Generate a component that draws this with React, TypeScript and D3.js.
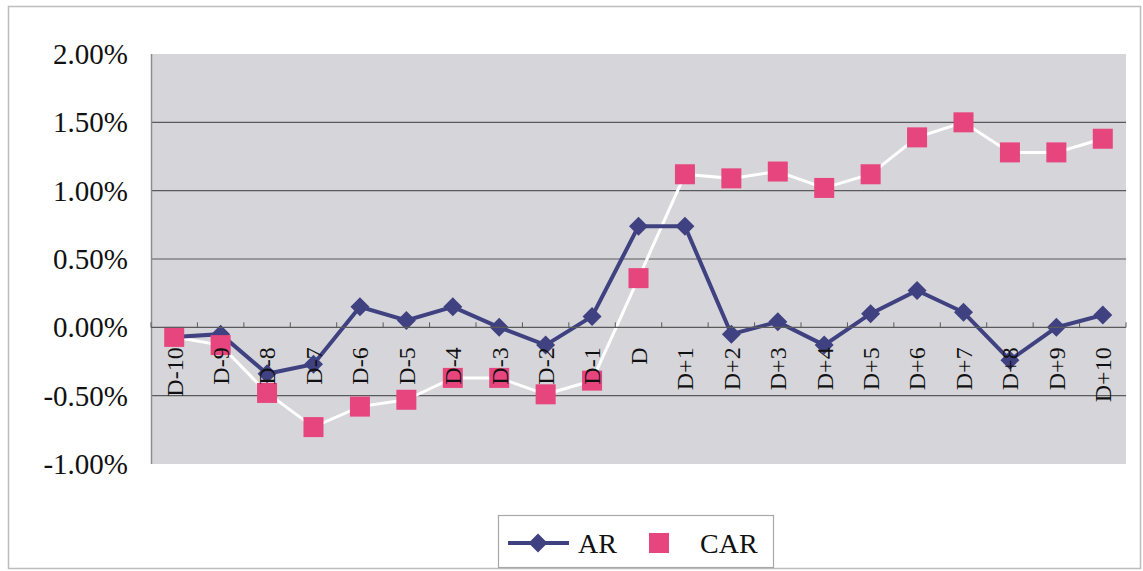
import React, { useRef, useEffect } from 'react';
import * as d3 from 'd3';

const categories = [
  'D-10', 'D-9', 'D-8', 'D-7', 'D-6', 'D-5', 'D-4', 'D-3', 'D-2', 'D-1', 'D',
  'D+1', 'D+2', 'D+3', 'D+4', 'D+5', 'D+6', 'D+7', 'D+8', 'D+9', 'D+10',
];

// values in percent
const arValues = [
  -0.07, -0.05, -0.34, -0.27, 0.15, 0.05, 0.15, 0.0, -0.13, 0.08, 0.74,
  0.74, -0.05, 0.04, -0.13, 0.1, 0.27, 0.11, -0.24, 0.0, 0.09,
];
const carValues = [
  -0.07, -0.13, -0.48, -0.73, -0.58, -0.53, -0.37, -0.37, -0.49, -0.39, 0.36,
  1.12, 1.09, 1.14, 1.02, 1.12, 1.39, 1.5, 1.28, 1.28, 1.38,
];
const yTicks = [2.0, 1.5, 1.0, 0.5, 0.0, -0.5, -1.0];

const W = 1143;
const H = 571;
const FONT = '"Liberation Serif", "Times New Roman", serif';
const AR_COLOR = '#3f4181';
const CAR_COLOR = '#e6457d';

const App = () => {
  const ref = useRef<SVGSVGElement>(null);

  useEffect(() => {
    const svg = d3.select(ref.current);
    svg.selectAll('*').remove();

    const margin = { top: 54, right: 17, bottom: 107, left: 151 };
    const width = W - margin.left - margin.right;
    const height = H - margin.top - margin.bottom;

    // outer chart border
    svg.append('rect')
      .attr('x', 8.5).attr('y', 6.5)
      .attr('width', 1132).attr('height', 562)
      .attr('fill', '#fff').attr('stroke', '#bdbdbd').attr('stroke-width', 1.5);

    const g = svg.append('g').attr('transform', `translate(${margin.left},${margin.top})`);

    const x = d3.scaleBand().domain(categories).range([0, width]);
    const y = d3.scaleLinear().domain([-1, 2]).range([height, 0]);

    g.append('rect')
      .attr('width', width).attr('height', height)
      .attr('fill', '#d6d5da');

    // gridlines
    g.selectAll('.grid')
      .data(yTicks.filter(t => t !== 2 && t !== -1 && t !== 0))
      .enter()
      .append('line')
      .attr('x1', 0).attr('x2', width)
      .attr('y1', d => y(d)).attr('y2', d => y(d))
      .attr('stroke', '#5a5a5a').attr('stroke-width', 1.2);

    // value axis line
    g.append('line')
      .attr('x1', 0.5).attr('x2', 0.5).attr('y1', 0).attr('y2', height)
      .attr('stroke', '#8c8c8c').attr('stroke-width', 1.5);

    // y labels
    g.selectAll('.ylab')
      .data(yTicks)
      .enter()
      .append('text')
      .attr('x', -23)
      .attr('y', d => y(d))
      .attr('dy', '0.35em')
      .attr('text-anchor', 'end')
      .attr('font-family', FONT)
      .attr('font-size', 29)
      .attr('fill', '#111')
      .text(d => d.toFixed(2) + '%');

    // category axis at 0
    const xAxis = g.append('g').attr('transform', `translate(0,${y(0)})`);
    xAxis.append('line')
      .attr('x1', 0).attr('x2', width)
      .attr('stroke', '#5a5a5a').attr('stroke-width', 1.2);
    const bounds = d3.range(categories.length + 1).map(i => i * x.step());
    xAxis.selectAll('.tick')
      .data(bounds)
      .enter()
      .append('line')
      .attr('x1', d => d).attr('x2', d => d)
      .attr('y1', 0).attr('y2', -5)
      .attr('stroke', '#5a5a5a').attr('stroke-width', 1);

    const cx = (i: number) => x(categories[i])! + x.bandwidth() / 2;

    // CAR line
    const carLine = d3.line<number>().x((_, i) => cx(i)).y(d => y(d));
    g.append('path')
      .datum(carValues)
      .attr('d', carLine)
      .attr('fill', 'none')
      .attr('stroke', '#fff')
      .attr('stroke-width', 3);

    // AR line + diamonds
    const arLine = d3.line<number>().x((_, i) => cx(i)).y(d => y(d));
    g.append('path')
      .datum(arValues)
      .attr('d', arLine)
      .attr('fill', 'none')
      .attr('stroke', AR_COLOR)
      .attr('stroke-width', 4);

    const diamond = d3.symbol().type(d3.symbolDiamond2).size(230);
    g.selectAll('.ar')
      .data(arValues)
      .enter()
      .append('path')
      .attr('d', diamond)
      .attr('transform', (d, i) => `translate(${cx(i)},${y(d)})`)
      .attr('fill', AR_COLOR);

    // CAR squares
    g.selectAll('.car')
      .data(carValues)
      .enter()
      .append('rect')
      .attr('x', (_, i) => cx(i) - 10)
      .attr('y', d => y(d) - 10)
      .attr('width', 20).attr('height', 20)
      .attr('fill', CAR_COLOR);

    // category labels drawn over the markers
    xAxis.raise();
    xAxis.selectAll('.xlab')
      .data(categories)
      .enter()
      .append('text')
      .attr('transform', d => `translate(${x(d)! + x.bandwidth() / 2},20) rotate(-90)`)
      .attr('dy', '0.35em')
      .attr('text-anchor', 'end')
      .attr('font-family', FONT)
      .attr('font-size', 24)
      .attr('fill', '#111')
      .text(d => d);

    // legend
    const lg = svg.append('g').attr('transform', 'translate(498,515)');
    lg.append('rect')
      .attr('x', 0.5).attr('y', 0.5)
      .attr('width', 275).attr('height', 52)
      .attr('fill', '#fff').attr('stroke', '#a8a8a8').attr('stroke-width', 1.2);
    lg.append('line')
      .attr('x1', 10).attr('x2', 71).attr('y1', 28).attr('y2', 28)
      .attr('stroke', AR_COLOR).attr('stroke-width', 4);
    lg.append('path')
      .attr('d', diamond)
      .attr('transform', 'translate(40,28)')
      .attr('fill', AR_COLOR);
    lg.append('text')
      .attr('x', 80).attr('y', 38)
      .attr('font-family', FONT).attr('font-size', 28).attr('fill', '#111')
      .text('AR');
    lg.append('rect')
      .attr('x', 151).attr('y', 18).attr('width', 20).attr('height', 20)
      .attr('fill', CAR_COLOR);
    lg.append('text')
      .attr('x', 202).attr('y', 38)
      .attr('font-family', FONT).attr('font-size', 28).attr('fill', '#111')
      .text('CAR');
  }, []);

  return (
    <svg
      ref={ref}
      width={W}
      height={H}
      style={{ position: 'absolute', left: 0, top: 0, display: 'block' }}
    />
  );
};

export default App;
